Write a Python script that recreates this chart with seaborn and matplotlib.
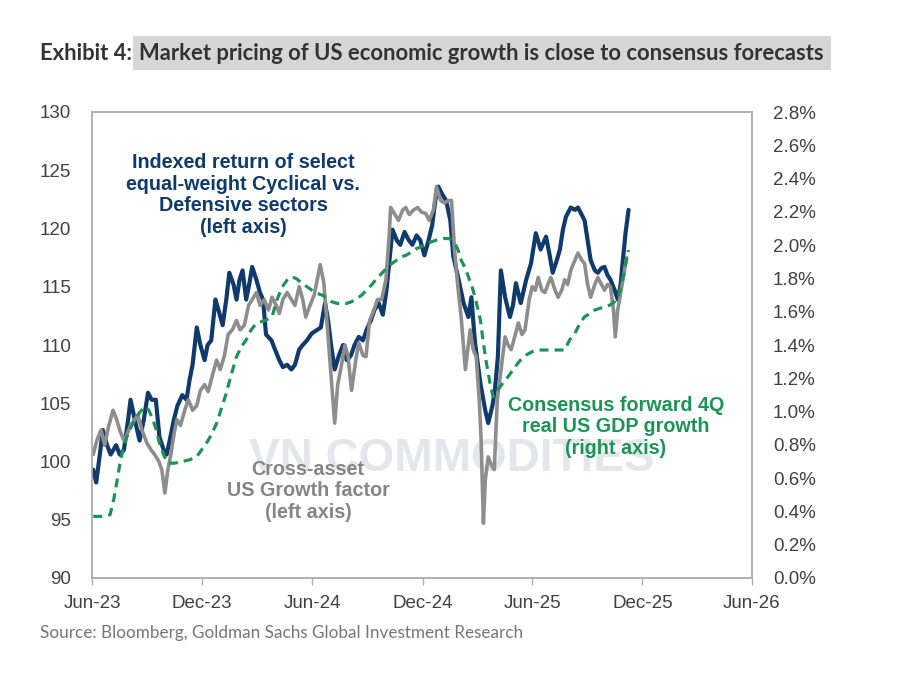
import numpy as np
import pandas as pd
import matplotlib
matplotlib.use("Agg")
import matplotlib.pyplot as plt
import matplotlib.dates as mdates
import seaborn as sns

# ---------------- data ----------------
start_date = "2023-06-01"

# Indexed return of select equal-weight Cyclical vs. Defensive sectors (left axis)
cyc_days = [2, 7, 13, 18, 25, 31, 40, 46, 53, 60, 64, 71, 79, 86, 93, 99, 106, 112, 119, 124,
            129, 136, 142, 150, 157, 162, 167, 174, 180, 187, 192, 198, 205, 210, 217, 223, 228,
            235, 240, 245, 250, 256, 261, 266, 273, 279, 284, 289, 298, 304, 311, 317, 324, 331,
            337, 344, 350, 357, 365, 374, 380, 387, 392, 397, 403, 410, 417, 423, 430, 436, 443,
            450, 456, 463, 469, 476, 483, 489, 494, 499, 506, 512, 519, 526, 532, 539, 545, 552,
            559, 565, 570, 575, 582, 588, 595, 600, 608, 617, 625, 630, 636, 645, 653, 658, 665,
            669, 674, 679, 686, 694, 699, 704, 712, 721, 729, 737, 745, 754, 760, 765, 772, 777,
            782, 787, 795, 802, 807, 813, 818, 823, 828, 835, 840, 846, 851, 856, 861, 868, 873,
            878, 881, 886, 891]
cyc_vals = [99.3, 98.2, 100.6, 102.7, 101.4, 100.6, 101.4, 100.6, 101.0, 103.6, 105.3, 103.6,
            101.8, 103.6, 105.9, 105.3, 105.3, 102.1, 101.0, 100.6, 101.8, 103.6, 104.8, 105.7,
            105.3, 107.0, 108.3, 111.5, 110.0, 108.7, 110.0, 110.4, 113.9, 113.0, 111.7, 113.9,
            116.2, 115.2, 113.9, 115.6, 116.4, 113.9, 115.2, 116.7, 115.6, 114.5, 113.9, 110.9,
            110.4, 109.6, 108.7, 108.1, 108.3, 107.9, 108.3, 109.6, 110.0, 110.4, 111.0, 111.3,
            111.5, 113.6, 112.1, 110.0, 107.9, 109.1, 110.0, 108.7, 109.1, 110.0, 110.7, 110.4,
            111.3, 112.1, 113.0, 113.6, 112.6, 114.7, 117.3, 119.9, 119.0, 118.6, 119.7, 119.0,
            118.6, 119.4, 119.0, 117.7, 119.0, 120.3, 122.4, 123.6, 122.9, 122.4, 120.7, 117.6,
            115.8, 113.6, 112.4, 114.1, 110.2, 106.7, 104.4, 103.3, 104.8, 106.1, 109.0, 116.4,
            114.1, 112.4, 113.4, 115.3, 113.6, 115.6, 117.0, 119.6, 118.2, 119.3, 117.7, 116.2,
            117.3, 118.2, 119.9, 121.0, 121.8, 121.6, 121.8, 121.2, 120.7, 119.0, 117.3, 116.4,
            116.2, 116.6, 116.7, 116.0, 115.6, 114.7, 113.9, 115.2, 117.0, 119.6, 121.6]

# Cross-asset US Growth factor (left axis)
grw_days = [2, 8, 15, 21, 28, 35, 41, 46, 53, 58, 64, 71, 76, 83, 91, 98, 104, 111, 116, 121,
            126, 131, 136, 141, 147, 154, 160, 167, 174, 180, 187, 193, 200, 207, 213, 220, 226,
            233, 240, 246, 253, 260, 266, 273, 279, 286, 293, 299, 306, 311, 317, 324, 331, 337,
            344, 350, 355, 362, 369, 374, 379, 385, 390, 395, 400, 403, 408, 413, 420, 425, 431,
            438, 443, 450, 455, 461, 468, 474, 481, 488, 493, 496, 503, 509, 516, 521, 527, 534,
            541, 547, 554, 560, 567, 572, 579, 585, 592, 597, 602, 607, 613, 620, 625, 628, 633,
            638, 643, 646, 650, 653, 658, 663, 668, 673, 678, 686, 691, 696, 703, 708, 714, 719,
            726, 731, 736, 741, 747, 752, 757, 762, 769, 774, 780, 785, 790, 795, 802, 807, 813,
            818, 823, 828, 835, 840, 846, 851, 856, 861, 866, 869, 873, 878, 883, 888]
grw_vals = [100.6, 101.8, 102.7, 101.4, 103.1, 104.4, 103.6, 102.7, 101.8, 102.3, 103.1, 103.6,
            104.0, 102.7, 101.6, 101.0, 100.6, 100.0, 99.3, 97.3, 99.3, 100.6, 102.3, 103.6,
            103.1, 104.4, 105.3, 104.4, 104.8, 106.1, 106.6, 106.0, 107.4, 108.7, 107.9, 109.1,
            110.9, 111.3, 112.1, 111.3, 111.7, 113.4, 113.9, 114.5, 113.4, 113.9, 113.0, 114.1,
            113.4, 112.7, 113.9, 114.5, 113.9, 113.4, 115.0, 113.9, 112.4, 113.4, 114.3, 115.6,
            116.9, 115.3, 112.1, 108.7, 105.3, 103.3, 106.6, 107.9, 110.0, 109.1, 106.1, 108.7,
            110.2, 109.1, 109.0, 112.1, 113.0, 113.9, 113.9, 115.6, 119.0, 121.8, 121.2, 120.7,
            121.6, 121.8, 121.2, 121.6, 121.8, 121.4, 121.3, 120.7, 121.6, 123.6, 122.4, 122.2,
            122.4, 122.4, 118.2, 115.3, 112.4, 107.9, 110.0, 111.3, 109.6, 109.0, 105.3, 102.1,
            94.7, 98.4, 100.4, 99.7, 99.3, 105.3, 107.4, 110.7, 110.0, 109.6, 110.9, 111.9,
            110.9, 111.3, 113.9, 115.0, 114.7, 115.8, 114.7, 114.5, 115.2, 115.8, 114.7, 114.1,
            114.7, 115.6, 115.2, 116.4, 117.3, 117.9, 117.3, 117.0, 115.2, 114.1, 115.2, 115.8,
            115.2, 114.7, 115.2, 115.0, 113.0, 110.7, 113.0, 114.5, 116.0, 117.5]

# Consensus forward 4Q real US GDP growth, % (right axis)
gdp_days = [2, 17, 30, 36, 41, 46, 51, 60, 68, 78, 88, 94, 99, 106, 112, 119, 126, 137, 150, 162,
            174, 182, 190, 198, 207, 215, 223, 231, 240, 248, 256, 264, 273, 281, 289, 299, 307,
            316, 324, 331, 339, 349, 357, 365, 374, 382, 390, 398, 407, 415, 423, 431, 440, 448,
            456, 464, 473, 481, 489, 498, 506, 514, 522, 531, 539, 547, 555, 564, 572, 584, 593,
            603, 608, 613, 620, 625, 631, 636, 641, 645, 650, 655, 658, 661, 666, 671, 678, 684,
            691, 699, 707, 714, 721, 731, 741, 752, 762, 774, 785, 793, 802, 810, 818, 827, 835,
            843, 851, 860, 868, 874, 878, 883, 886, 891]
gdp_vals = [0.37, 0.37, 0.38, 0.47, 0.57, 0.68, 0.77, 0.87, 0.93, 0.99, 1.03, 1.01, 0.97, 0.90,
            0.81, 0.74, 0.69, 0.69, 0.70, 0.71, 0.73, 0.77, 0.81, 0.86, 0.93, 1.02, 1.11, 1.22,
            1.33, 1.39, 1.43, 1.49, 1.53, 1.54, 1.55, 1.57, 1.67, 1.75, 1.79, 1.81, 1.80, 1.77,
            1.75, 1.73, 1.71, 1.70, 1.68, 1.66, 1.65, 1.65, 1.65, 1.66, 1.68, 1.70, 1.73, 1.76,
            1.80, 1.83, 1.86, 1.89, 1.91, 1.93, 1.94, 1.96, 1.98, 1.99, 2.01, 2.02, 2.03, 2.04,
            2.04, 2.01, 1.97, 1.91, 1.86, 1.81, 1.75, 1.69, 1.61, 1.55, 1.41, 1.29, 1.23, 1.17,
            1.09, 1.12, 1.15, 1.18, 1.21, 1.25, 1.29, 1.32, 1.34, 1.36, 1.37, 1.37, 1.37, 1.37,
            1.37, 1.43, 1.47, 1.53, 1.57, 1.59, 1.61, 1.62, 1.63, 1.64, 1.66, 1.69, 1.75, 1.82,
            1.89, 1.97]

left_ticks = [90, 95, 100, 105, 110, 115, 120, 125, 130]
right_ticks = [0.0, 0.2, 0.4, 0.6, 0.8, 1.0, 1.2, 1.4, 1.6, 1.8, 2.0, 2.2, 2.4, 2.6, 2.8]
x_start, x_end = "2023-06-01", "2026-06-01"

title_lead = "Exhibit 4: "
title_main = "Market pricing of US economic growth is close to consensus forecasts"
source_text = "Source: Bloomberg, Goldman Sachs Global Investment Research"
label_cyc = "Indexed return of select\nequal-weight Cyclical vs.\nDefensive sectors\n(left axis)"
label_grw = "Cross-asset\nUS Growth factor\n(left axis)"
label_gdp = "Consensus forward 4Q\nreal US GDP growth\n(right axis)"
watermark = "VN COMMODITIES"

# ---------------- build frames ----------------
t0 = pd.Timestamp(start_date)
df_cyc = pd.DataFrame({"date": t0 + pd.to_timedelta(cyc_days, unit="D"), "value": cyc_vals})
df_grw = pd.DataFrame({"date": t0 + pd.to_timedelta(grw_days, unit="D"), "value": grw_vals})
df_gdp = pd.DataFrame({"date": t0 + pd.to_timedelta(gdp_days, unit="D"), "value": gdp_vals})

sns.set_theme(style="white")
plt.rcParams["font.family"] = ["Liberation Sans", "DejaVu Sans"]

BLUE = "#0f3a6b"
GRAY = "#8d8d8d"
GREEN = "#1c9455"
TICKC = "#404040"
SPINE = "#b0b0b0"

fig = plt.figure(figsize=(9, 6.75), dpi=100)
ax = fig.add_axes([92 / 900, 1 - 578 / 675, (752 - 92) / 900, (578 - 112) / 675])
ax2 = ax.twinx()

# watermark (faint, behind everything)
ax.text(0.545, 0.255, watermark, transform=ax.transAxes, ha="center", va="center",
        fontsize=33, fontweight="bold", color="#e4e6ec", zorder=0.5,
        family=["Liberation Sans", "DejaVu Sans"])

sns.lineplot(data=df_cyc, x="date", y="value", ax=ax, color=BLUE, linewidth=3.0,
             estimator=None, zorder=3)
sns.lineplot(data=df_grw, x="date", y="value", ax=ax, color=GRAY, linewidth=2.6,
             estimator=None, zorder=4)
sns.lineplot(data=df_gdp, x="date", y="value", ax=ax2, color=GREEN, linewidth=2.3,
             estimator=None, linestyle=(0, (2.8, 1.9)), zorder=5)

ax.set_xlim(pd.Timestamp(x_start), pd.Timestamp(x_end))
ax.set_ylim(left_ticks[0], left_ticks[-1])
ax2.set_ylim(right_ticks[0], right_ticks[-1])
ax.set_yticks(left_ticks)
ax.set_yticklabels([str(v) for v in left_ticks])
ax2.set_yticks(right_ticks)
ax2.set_yticklabels([f"{v:.1f}%" for v in right_ticks])

ax.xaxis.set_major_locator(mdates.MonthLocator(bymonth=[6, 12]))
ax.xaxis.set_major_formatter(mdates.DateFormatter("%b-%y"))

for a in (ax, ax2):
    a.set_xlabel("")
    a.set_ylabel("")
    for s in a.spines.values():
        s.set_color(SPINE)
        s.set_linewidth(1.2)
    a.grid(False)

ax.tick_params(axis="x", which="major", length=5, width=1.0, color=SPINE,
               labelsize=13.5, labelcolor=TICKC, pad=7, direction="out", bottom=True)
ax.tick_params(axis="y", length=0, labelsize=13.5, labelcolor=TICKC, pad=15)
ax2.tick_params(axis="y", length=0, labelsize=13.5, labelcolor=TICKC, pad=15)


def place(xpx, ypx, s, color):
    fig.text(xpx / 900, 1 - ypx / 675, s, ha="center", va="center", color=color,
             fontsize=14.2, fontweight="bold", linespacing=1.17,
             family=["Liberation Sans", "DejaVu Sans"], zorder=6)


place(243, 195, label_cyc, BLUE)
place(308, 491, label_grw, "#858585")
place(616, 427, label_gdp, GREEN)

# title with highlighted part
tfam = ["Lato", "DejaVu Sans"]
t1 = fig.text(40 / 900, 1 - 53 / 675, title_lead, ha="left", va="center", fontsize=15.8,
              fontweight="bold", color="#333333", family=tfam)
fig.canvas.draw()
bb = t1.get_window_extent(renderer=fig.canvas.get_renderer())
fig.text(bb.x1 / 900 + 2 / 900, 1 - 53 / 675, title_main, ha="left", va="center", fontsize=15.8,
         fontweight="bold", color="#333333", family=tfam,
         bbox=dict(boxstyle="square,pad=0.3", facecolor="#d6d6d6", edgecolor="none"))

fig.text(40 / 900, 1 - 633 / 675, source_text, ha="left", va="center", fontsize=12.3,
         color="#767676", family=tfam)

fig.savefig("out.png", dpi=100, facecolor="white")
